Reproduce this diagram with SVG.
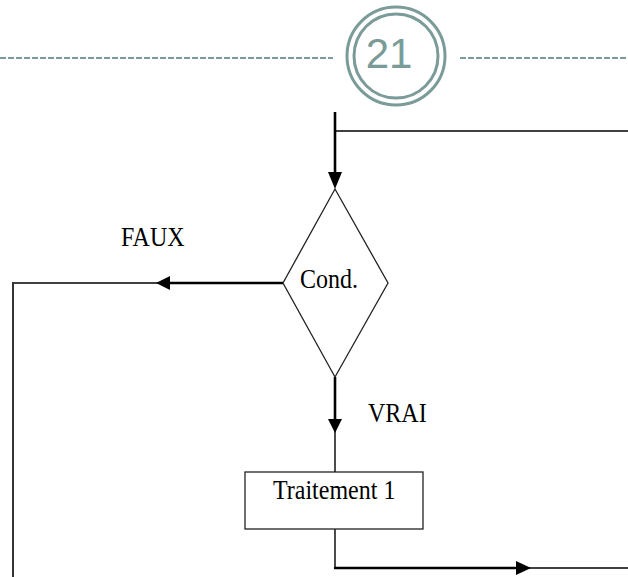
<svg xmlns="http://www.w3.org/2000/svg" width="628" height="577" viewBox="0 0 628 577">
<style>
.hdr{stroke:#7a9b98;fill:none}
.dash{stroke:#7a9b98;stroke-width:2;stroke-dasharray:6 2}
.thin{stroke:#000;stroke-width:1.4;fill:none}
.thick{stroke:#000;stroke-width:2.6;fill:none}
.shape{stroke:#222;stroke-width:1.3;fill:#fff}
.lbl{font-family:"Liberation Serif","Times New Roman",serif;font-size:24px;fill:#000}
.ah{fill:#000}
</style>
<g id="header">
<line class="dash" x1="0" y1="58" x2="333" y2="58"/>
<line class="dash" x1="460" y1="58" x2="628" y2="58"/>
<circle class="hdr" cx="396" cy="56" r="49" stroke-width="3"/>
<circle class="hdr" cx="396" cy="56" r="42" stroke-width="3"/>
<text x="389" y="68" text-anchor="middle" font-family="Liberation Sans, Arial, sans-serif" font-size="42" fill="#7a9b98">21</text>
</g>
<g id="connectors">
<line class="thin" x1="335" y1="131" x2="628" y2="131"/>
<line class="thick" x1="335" y1="112" x2="335" y2="176"/>
<polygon class="ah" points="328,172 342,172 335,189"/>
<line class="thick" x1="283" y1="283" x2="168" y2="283"/>
<polygon class="ah" points="170,276 170,290 156,283"/>
<line class="thin" x1="158" y1="283" x2="13" y2="283"/>
<line class="thick" x1="13" y1="282" x2="13" y2="577" style="stroke:#333;stroke-width:2"/>
<line class="thick" x1="335" y1="377" x2="335" y2="421"/>
<polygon class="ah" points="328,419 342,419 335,433"/>
<line class="thin" x1="335" y1="430" x2="335" y2="472"/>
<line class="thin" x1="335" y1="529" x2="335" y2="568"/>
<line class="thick" x1="334" y1="568" x2="518" y2="568"/>
<polygon class="ah" points="516,561 516,575 531,568"/>
<line class="thin" x1="528" y1="568" x2="628" y2="568"/>
</g>
<g id="cond">
<polygon class="shape" points="335,189 388,283 335,377 283,283"/>
<text class="lbl" transform="translate(300,288) scale(1,1.1)">Cond.</text>
</g>
<g id="traitement1">
<rect class="shape" x="245" y="472" width="178" height="57"/>
<text class="lbl" transform="translate(273,499) scale(1,1.1)">Traitement 1</text>
</g>
<g id="labels">
<text class="lbl" transform="translate(121,246) scale(1,1.1)">FAUX</text>
<text class="lbl" transform="translate(368,422) scale(1,1.1)">VRAI</text>
</g>
</svg>
